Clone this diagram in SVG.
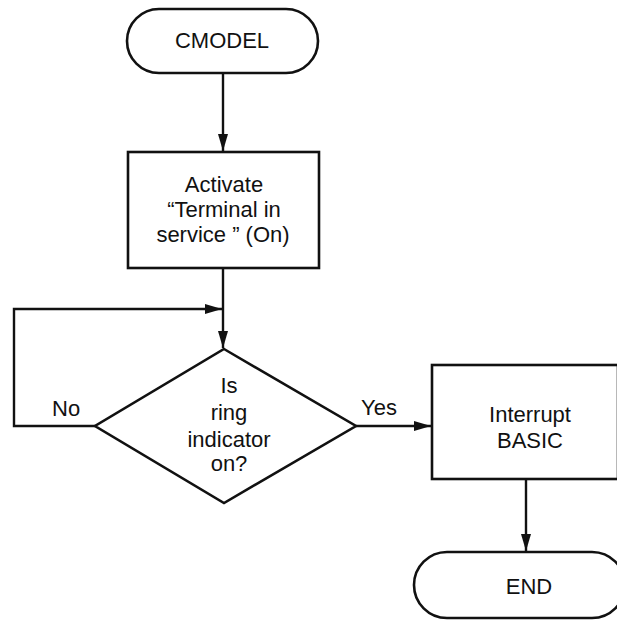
<svg xmlns="http://www.w3.org/2000/svg" width="617" height="620" viewBox="0 0 617 620">
  <style>
    .shape { fill: #ffffff; stroke: #111111; stroke-width: 2.6; }
    .wire { fill: none; stroke: #111111; stroke-width: 2.4; }
    .label { font-family: "Liberation Sans", Arial, sans-serif; font-size: 22px; fill: #111111; text-anchor: middle; }
    .side { font-family: "Liberation Sans", Arial, sans-serif; font-size: 22px; fill: #111111; }
  </style>
  <defs>
    <marker id="arrow" markerUnits="userSpaceOnUse" markerWidth="18" markerHeight="12" refX="17" refY="6" orient="auto">
      <path d="M0,1 L17,6 L0,11 Z" fill="#111111"/>
    </marker>
  </defs>
  <rect width="617" height="620" fill="#ffffff"/>

  <!-- connectors -->
  <g id="connectors">
    <line class="wire" x1="223" y1="74" x2="223" y2="151" marker-end="url(#arrow)"/>
    <line class="wire" x1="223" y1="268" x2="223" y2="348" marker-end="url(#arrow)"/>
    <polyline class="wire" points="95,426 14,426 14,309 222,309" marker-end="url(#arrow)"/>
    <line class="wire" x1="356" y1="426" x2="431" y2="426" marker-end="url(#arrow)"/>
    <line class="wire" x1="526" y1="479" x2="526" y2="551" marker-end="url(#arrow)"/>
    <text class="side" x="52" y="416">No</text>
    <text class="side" x="361" y="415">Yes</text>
  </g>

  <!-- start terminal -->
  <g id="cmodel">
    <rect class="shape" x="127" y="9" width="191" height="64" rx="32" ry="32"/>
    <text class="label" x="222" y="48">CMODEL</text>
  </g>

  <!-- activate process -->
  <g id="activate">
    <rect class="shape" x="128" y="152" width="191" height="116"/>
    <text class="label" x="224" y="192">Activate</text>
    <text class="label" x="224" y="217">“Terminal in</text>
    <text class="label" x="223" y="242">service ” (On)</text>
  </g>

  <!-- decision -->
  <g id="ring-check">
    <polygon class="shape" points="224,349 356,426 224,503 95,426"/>
    <text class="label" x="229" y="393">Is</text>
    <text class="label" x="229" y="420">ring</text>
    <text class="label" x="229" y="447">indicator</text>
    <text class="label" x="229" y="471">on?</text>
  </g>

  <!-- interrupt process -->
  <g id="interrupt">
    <rect class="shape" x="432" y="365" width="186" height="114"/>
    <text class="label" x="530" y="422">Interrupt</text>
    <text class="label" x="530" y="448">BASIC</text>
  </g>

  <!-- end terminal -->
  <g id="end">
    <rect class="shape" x="414" y="552" width="211" height="66" rx="33" ry="33"/>
    <text class="label" x="529" y="594">END</text>
  </g>
</svg>
